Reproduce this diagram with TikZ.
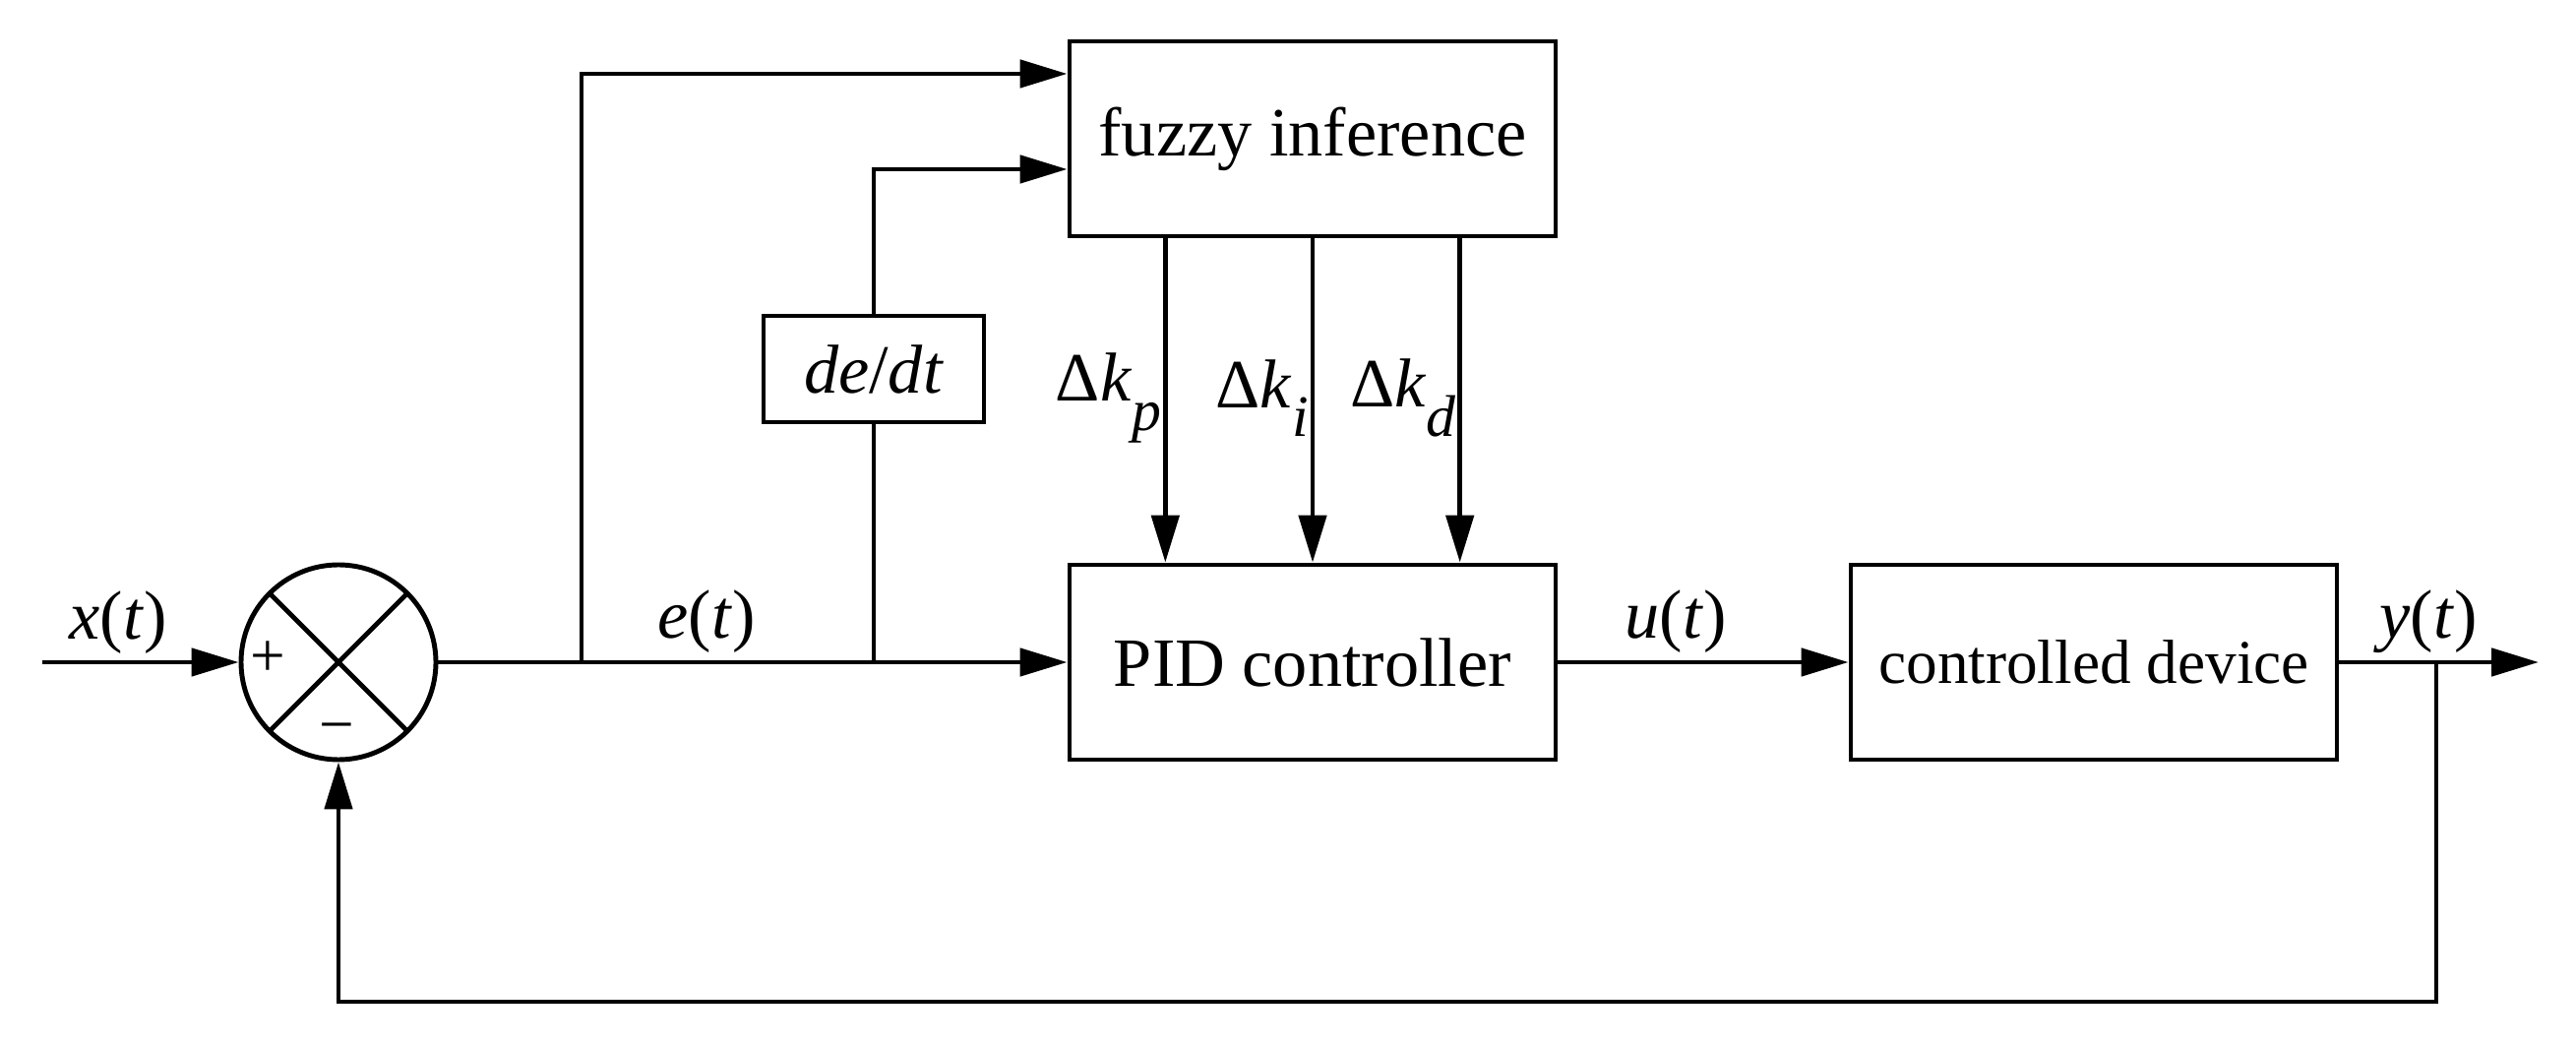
\documentclass[tikz,border=0pt]{standalone}
\usepackage{fontspec}
\setmainfont{Liberation Serif}
\usepackage{tikz}
\usetikzlibrary{shapes,arrows.meta,positioning,calc}
\tikzset{
  blockbox/.style={draw, line width=1.4pt, minimum width=4.94cm, minimum height=1.98cm, font=\fontsize{20}{24}\selectfont},
  sig/.style={line width=1.4pt, -{Triangle[length=4.8mm,width=2.8mm]}},
  wire/.style={line width=1.4pt},
  lbl/.style={font=\fontsize{20}{24}\selectfont, inner sep=1pt}
}
\newcommand{\lowsub}[1]{\raisebox{-0.42em}{\fontsize{17}{20}\selectfont\itshape #1}}

\begin{document}
\begin{tikzpicture}
\useasboundingbox (0,0) rectangle (26.18,10.62);

% blocks
\node[draw, circle, line width=1.4pt, minimum size=1.98cm, inner sep=0pt] (sum) at (3.44,3.89) {};
\node[blockbox] (fuzzy) at (13.34,9.21) {fuzzy inference};
\node[blockbox] (pid) at (13.34,3.89) {PID controller};
\node[blockbox, font=\fontsize{18}{22}\selectfont] (plant) at (21.28,3.89) {controlled device};
\node[draw, line width=1.4pt, minimum width=2.24cm, minimum height=1.08cm, lbl] (dedt) at (8.88,6.87) {\textit{de}/\textit{dt}};

\draw[wire] (sum.45) -- (sum.225) (sum.135) -- (sum.315);
\node[font=\fontsize{18}{22}\selectfont] (plus) at (2.72,3.92) {+};
\node[font=\fontsize{18}{22}\selectfont] (minus) at (3.42,3.16) {\textminus};

% points on the signal lines
\coordinate (in) at (0.43,3.89);
\coordinate (b1) at (5.91,3.89);
\coordinate (b2) at (8.88,3.89);
\coordinate (yb) at (24.76,3.89);
\coordinate (out) at (25.80,3.89);
\coordinate (fbl) at (24.76,0.44);

% forward path
\draw[sig] (in) -- (sum.west);
\draw[sig] (sum.east) -- (pid.west);
\draw[sig] (pid.east) -- (plant.west);
\draw[sig] (plant.east) -- (out);
\draw[sig] (yb) -- (fbl) -| (sum.south);

% to fuzzy inference
\draw[sig] (b1) |- ($(fuzzy.west)+(0,0.66)$);
\draw[wire] (b2) -- (dedt.south);
\draw[sig] (dedt.north) |- ($(fuzzy.west)+(0,-0.31)$);

% gain corrections
\foreach \pos/\sub/\nm in {0.2/p/kp, 0.5/i/ki, 0.8/d/kd}{
  \coordinate (\nm) at ($(fuzzy.south west)!\pos!(fuzzy.south east)$);
  \draw[sig] (\nm) -- (\nm |- pid.north);
  \node[lbl, anchor=east] (\nm lbl) at ($(\nm)+(0,-1.62)$) {Δ\textit{k}\lowsub{\sub}};
}

% signal labels
\node[lbl] (xl) at (1.20,4.29) {\textit{x}(\textit{t})};
\node[lbl] (el) at (7.18,4.30) {\textit{e}(\textit{t})};
\node[lbl] (ul) at (17.03,4.30) {\textit{u}(\textit{t})};
\node[lbl] (yl) at (24.68,4.30) {\textit{y}(\textit{t})};
\end{tikzpicture}
\end{document}
